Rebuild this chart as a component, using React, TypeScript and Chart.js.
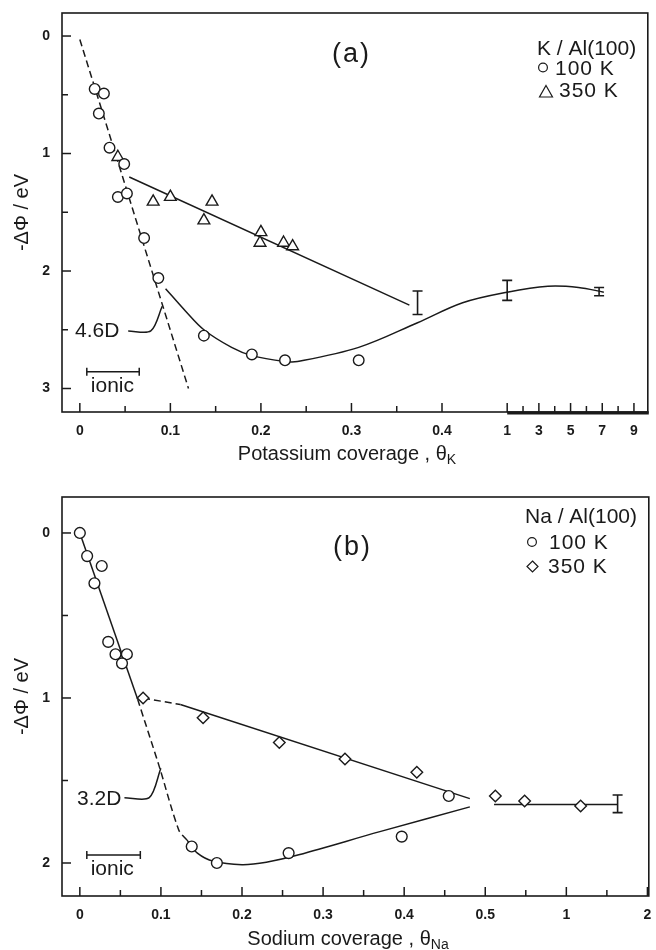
import React, { useEffect, useRef } from "react";
import { Chart, registerables } from "chart.js";
Chart.register(...registerables);

const FONT = "'Liberation Sans', Arial, Helvetica, sans-serif";
const INK = "#1a1a1a";

// ---------- Panel (a): K / Al(100) ----------
const kCircX = [0.0164, 0.0266, 0.021, 0.0328, 0.049, 0.042, 0.052, 0.071, 0.0867, 0.137, 0.19, 0.2266, 0.308];
const kCircY = [0.45, 0.49, 0.66, 0.95, 1.09, 1.37, 1.34, 1.72, 2.06, 2.55, 2.71, 2.76, 2.76];
const kTriX = [0.042, 0.081, 0.1, 0.146, 0.137, 0.2, 0.199, 0.225, 0.235];
const kTriY = [1.03, 1.41, 1.37, 1.41, 1.57, 1.67, 1.76, 1.76, 1.79];
const kIonicX = [0, 0.12];
const kIonicY = [0.03, 3.0];
const kHotLineX = [0.0546, 0.364];
const kHotLineY = [1.2, 2.29];
const kCurveX = [0.0947, 0.1166, 0.137, 0.1676, 0.19, 0.2266, 0.2404, 0.308, 0.373, 0.59, 1, 3.57, 5.5, 7.1];
const kCurveY = [2.15, 2.34, 2.5, 2.65, 2.72, 2.77, 2.77, 2.65, 2.44, 2.27, 2.18, 2.13, 2.14, 2.18];
const kLeaderX = [0.0534, 0.0784, 0.091];
const kLeaderY = [2.51, 2.51, 2.3];
const kErrX = [0.373, 1, 6.8];
const kErrLo = [2.17, 2.08, 2.14];
const kErrHi = [2.37, 2.25, 2.21];
const kXTicks = [0, 0.1, 0.2, 0.3, 0.4, 1, 3, 5, 7, 9];
const kXTickLabels = ["0", "0.1", "0.2", "0.3", "0.4", "1", "3", "5", "7", "9"];
const kXMinor = [0.05, 0.15, 0.25, 0.35, 2, 4, 6, 8];
const kYTicks = [0, 1, 2, 3];
const kYTickLabels = ["0", "1", "2", "3"];
const kYMinor = [0.5, 1.5, 2.5];

// ---------- Panel (b): Na / Al(100) ----------
const naCircX = [0, 0.009, 0.027, 0.018, 0.035, 0.044, 0.058, 0.052, 0.138, 0.169, 0.2575, 0.397, 0.455];
const naCircY = [0, 0.14, 0.2, 0.305, 0.66, 0.735, 0.735, 0.79, 1.9, 2.0, 1.94, 1.84, 1.594];
const naDiaX = [0.078, 0.152, 0.246, 0.327, 0.4156, 0.545, 0.7, 1.13];
const naDiaY = [1.0, 1.12, 1.27, 1.37, 1.45, 1.594, 1.624, 1.655];
const naLineX = [0, 0.0713];
const naLineY = [0, 1.008];
const naDashX = [0.0713, 0.098, 0.122, 0.132];
const naDashY = [1.008, 1.416, 1.8, 1.86];
const naCurveX = [0.132, 0.145, 0.165, 0.2, 0.23, 0.27, 0.37, 0.481];
const naCurveY = [1.86, 1.94, 1.99, 2.01, 1.995, 1.95, 1.81, 1.66];
const naHotDashX = [0.078, 0.124];
const naHotDashY = [1.0, 1.04];
const naHotLineX = [0.124, 0.481];
const naHotLineY = [1.04, 1.61];
const naFlatX = [0.539, 1.55];
const naFlatY = [1.645, 1.645];
const naLeaderX = [0.055, 0.0856, 0.0999];
const naLeaderY = [1.604, 1.604, 1.426];
const naErrX = [1.55];
const naErrLo = [1.588];
const naErrHi = [1.695];
const naXTicks = [0, 0.1, 0.2, 0.3, 0.4, 0.5, 1, 2];
const naXTickLabels = ["0", "0.1", "0.2", "0.3", "0.4", "0.5", "1", "2"];
const naXMinor = [0.05, 0.15, 0.25, 0.35, 0.45, 0.7071, 1.4142];
const naYTicks = [0, 1, 2];
const naYTickLabels = ["0", "1", "2"];
const naYMinor = [0.5, 1.5];

// axis breaks (display transforms)
const fA = (x: number) => (x <= 0.4 ? x : x < 1 ? 0.4 + (x - 0.4) * 0.12 : 0.472 + (x - 1) * 0.0175);
const fB = (x: number) => (x <= 0.5 ? x : 0.5 + 0.1 * Math.log2(x / 0.5));

type Pt = { x: number; y: number };
const zip = (xs: number[], ys: number[], f: (v: number) => number): Pt[] => xs.map((x, i) => ({ x: f(x), y: ys[i] }));

const marker = (label: string, data: Pt[], style: string, r: number) => ({
  label,
  data,
  showLine: false,
  pointStyle: style,
  pointRadius: r,
  pointHoverRadius: r,
  pointBorderWidth: 1.4,
  pointBorderColor: INK,
  pointBackgroundColor: "#ffffff",
});
const line = (label: string, data: Pt[], dash: number[] = [], tension = 0) => ({
  label,
  data,
  showLine: true,
  pointRadius: 0,
  borderColor: INK,
  borderWidth: 1.5,
  borderDash: dash,
  cubicInterpolationMode: "default",
  tension,
  fill: false,
});

type PanelDef = {
  id: string;
  height: number;
  padTop: number;
  xAxisH: number;
  fx: (v: number) => number;
  xMin: number; xMax: number; yMin: number; yMax: number;
  xTicks: number[]; xTickLabels: string[]; xMinor: number[];
  yTicks: number[]; yTickLabels: string[]; yMinor: number[];
  datasets: any[];
  errX: number[]; errLo: number[]; errHi: number[];
  thickFrom: number | null;
  ionic: { x0: number; x1: number; y: number; tx: number; ty: number };
  dip: { text: string; x: number; y: number };
  letter: { text: string; x: number; y: number };
  legendTitle: { text: string; x: number; y: number };
  legendItems: { shape: string; mx: number; my: number; text: string; tx: number; ty: number }[];
  xTitle: { main: string; sub: string; cx: number; y: number };
};

const panelA: PanelDef = {
  id: "a", height: 470, padTop: 13, xAxisH: 58, fx: fA,
  xMin: -0.0197, xMax: 0.6273, yMin: -0.196, yMax: 3.2,
  xTicks: kXTicks, xTickLabels: kXTickLabels, xMinor: kXMinor,
  yTicks: kYTicks, yTickLabels: kYTickLabels, yMinor: kYMinor,
  datasets: [
    marker("100 K", zip(kCircX, kCircY, fA), "circle", 5.3),
    marker("350 K", zip(kTriX, kTriY, fA), "triangle", 6.8),
    line("ionic 4.6D", zip(kIonicX, kIonicY, fA), [7, 4]),
    line("350 K fit", zip(kHotLineX, kHotLineY, fA)),
    line("100 K fit", zip(kCurveX, kCurveY, fA), [], 0.35),
    line("leader", zip(kLeaderX, kLeaderY, fA), [], 0.3),
  ],
  errX: kErrX, errLo: kErrLo, errHi: kErrHi,
  thickFrom: 1,
  ionic: { x0: 0.0077, x1: 0.0656, y: 2.857, tx: 0.036, ty: 3.03 },
  dip: { text: "4.6D", x: 0.0437, y: 2.56 },
  letter: { text: "(a)", x: 332, y: 62 },
  legendTitle: { text: "K / Al(100)", x: 537, y: 55 },
  legendItems: [
    { shape: "circle", mx: 543, my: 67.5, text: "100 K", tx: 555, ty: 75 },
    { shape: "triangle", mx: 546, my: 91.5, text: "350 K", tx: 559, ty: 97 },
  ],
  xTitle: { main: "Potassium coverage , θ", sub: "K", cx: 347, y: 460 },
};

const panelB: PanelDef = {
  id: "b", height: 480, padTop: 27, xAxisH: 54, fx: fB,
  xMin: -0.022, xMax: 0.7017, yMin: -0.218, yMax: 2.2,
  xTicks: naXTicks, xTickLabels: naXTickLabels, xMinor: naXMinor,
  yTicks: naYTicks, yTickLabels: naYTickLabels, yMinor: naYMinor,
  datasets: [
    marker("100 K", zip(naCircX, naCircY, fB), "circle", 5.4),
    marker("350 K", zip(naDiaX, naDiaY, fB), "rectRot", 5.8),
    line("100 K linear", zip(naLineX, naLineY, fB)),
    line("ionic 3.2D", zip(naDashX, naDashY, fB), [7, 4], 0.3),
    line("100 K fit", zip(naCurveX, naCurveY, fB), [], 0.35),
    line("350 K dashed", zip(naHotDashX, naHotDashY, fB), [7, 4]),
    line("350 K fit", zip(naHotLineX, naHotLineY, fB)),
    line("350 K high", zip(naFlatX, naFlatY, fB)),
    line("leader", zip(naLeaderX, naLeaderY, fB), [], 0.3),
  ],
  errX: naErrX, errLo: naErrLo, errHi: naErrHi,
  thickFrom: null,
  ionic: { x0: 0.0086, x1: 0.0746, y: 1.952, tx: 0.04, ty: 2.07 },
  dip: { text: "3.2D", x: 0.0513, y: 1.648 },
  letter: { text: "(b)", x: 333, y: 84.5 },
  legendTitle: { text: "Na / Al(100)", x: 525, y: 53.3 },
  legendItems: [
    { shape: "circle", mx: 532, my: 72, text: "100 K", tx: 549, ty: 79 },
    { shape: "diamond", mx: 532.5, my: 96.5, text: "350 K", tx: 548, ty: 103.3 },
  ],
  xTitle: { main: "Sodium coverage , θ", sub: "Na", cx: 348, y: 475 },
};

function decor(p: PanelDef) {
  return {
    id: "decor",
    afterDraw(chart: any) {
      const ctx: CanvasRenderingContext2D = chart.ctx;
      const a = chart.chartArea;
      const xs = chart.scales.x;
      const ys = chart.scales.y;
      const X = (v: number) => xs.getPixelForValue(p.fx(v));
      const Y = (v: number) => ys.getPixelForValue(v);
      ctx.save();
      ctx.strokeStyle = INK;
      ctx.fillStyle = INK;
      ctx.lineCap = "butt";
      // frame
      ctx.lineWidth = 1.6;
      ctx.strokeRect(a.left, a.top, a.right - a.left, a.bottom - a.top);
      // tick marks (inward)
      ctx.lineWidth = 1.5;
      const tx = (v: number, len: number) => {
        const px = X(v);
        ctx.beginPath(); ctx.moveTo(px, a.bottom); ctx.lineTo(px, a.bottom - len); ctx.stroke();
      };
      const ty = (v: number, len: number) => {
        const py = Y(v);
        ctx.beginPath(); ctx.moveTo(a.left, py); ctx.lineTo(a.left + len, py); ctx.stroke();
      };
      p.xTicks.forEach((v) => tx(v, 9));
      p.xMinor.forEach((v) => tx(v, 6));
      p.yTicks.forEach((v) => ty(v, 9));
      p.yMinor.forEach((v) => ty(v, 6));
      if (p.thickFrom !== null) {
        ctx.lineWidth = 3.2;
        ctx.beginPath(); ctx.moveTo(X(p.thickFrom), a.bottom + 0.8); ctx.lineTo(a.right + 1, a.bottom + 0.8); ctx.stroke();
      }
      // error bars
      ctx.lineWidth = 1.6;
      p.errX.forEach((ex, i) => {
        const px = X(ex), y1 = Y(p.errLo[i]), y2 = Y(p.errHi[i]);
        ctx.beginPath();
        ctx.moveTo(px, y1); ctx.lineTo(px, y2);
        ctx.moveTo(px - 5, y1); ctx.lineTo(px + 5, y1);
        ctx.moveTo(px - 5, y2); ctx.lineTo(px + 5, y2);
        ctx.stroke();
      });
      // ionic scale bar
      {
        const x0 = X(p.ionic.x0), x1 = X(p.ionic.x1), py = Y(p.ionic.y);
        ctx.lineWidth = 1.5;
        ctx.beginPath();
        ctx.moveTo(x0, py); ctx.lineTo(x1, py);
        ctx.moveTo(x0, py - 4); ctx.lineTo(x0, py + 4);
        ctx.moveTo(x1, py - 4); ctx.lineTo(x1, py + 4);
        ctx.stroke();
        ctx.font = `21px ${FONT}`;
        ctx.textAlign = "center";
        ctx.textBaseline = "alphabetic";
        ctx.fillText("ionic", X(p.ionic.tx), Y(p.ionic.ty));
      }
      // dipole label
      ctx.font = `21px ${FONT}`;
      ctx.textAlign = "right";
      ctx.fillText(p.dip.text, X(p.dip.x), Y(p.dip.y));
      // panel letter
      ctx.textAlign = "left";
      ctx.font = `27px ${FONT}`;
      (ctx as any).letterSpacing = "2px";
      ctx.fillText(p.letter.text, p.letter.x, p.letter.y);
      (ctx as any).letterSpacing = "0px";
      // legend
      ctx.font = `21px ${FONT}`;
      ctx.fillText(p.legendTitle.text, p.legendTitle.x, p.legendTitle.y);
      p.legendItems.forEach((it) => {
        ctx.lineWidth = 1.2;
        ctx.beginPath();
        if (it.shape === "circle") {
          ctx.arc(it.mx, it.my, 4.4, 0, Math.PI * 2);
        } else if (it.shape === "triangle") {
          ctx.moveTo(it.mx, it.my - 6);
          ctx.lineTo(it.mx + 6.5, it.my + 5.5);
          ctx.lineTo(it.mx - 6.5, it.my + 5.5);
          ctx.closePath();
        } else {
          ctx.moveTo(it.mx, it.my - 5.5);
          ctx.lineTo(it.mx + 5.5, it.my);
          ctx.lineTo(it.mx, it.my + 5.5);
          ctx.lineTo(it.mx - 5.5, it.my);
          ctx.closePath();
        }
        ctx.stroke();
        (ctx as any).letterSpacing = "1px";
        ctx.fillText(it.text, it.tx, it.ty);
        (ctx as any).letterSpacing = "0px";
      });
      // x axis title with subscript
      const mainFont = `20px ${FONT}`;
      const subFont = `14px ${FONT}`;
      ctx.font = mainFont;
      const wMain = ctx.measureText(p.xTitle.main).width;
      ctx.font = subFont;
      const wSub = ctx.measureText(p.xTitle.sub).width;
      const x0 = p.xTitle.cx - (wMain + wSub) / 2;
      ctx.font = mainFont;
      ctx.textAlign = "left";
      ctx.fillText(p.xTitle.main, x0, p.xTitle.y);
      ctx.font = subFont;
      ctx.fillText(p.xTitle.sub, x0 + wMain, p.xTitle.y + 4);
      ctx.restore();
    },
  };
}

function buildConfig(p: PanelDef): any {
  return {
    type: "scatter",
    data: { datasets: p.datasets },
    options: {
      animation: false,
      responsive: false,
      events: [],
      layout: { padding: { top: p.padTop, right: 2, left: 0, bottom: 0 } },
      plugins: { legend: { display: false }, tooltip: { enabled: false }, title: { display: false } },
      scales: {
        x: {
          type: "linear",
          min: p.xMin,
          max: p.xMax,
          afterBuildTicks: (s: any) => { s.ticks = p.xTicks.map((v) => ({ value: p.fx(v) })); },
          afterFit: (s: any) => { s.height = p.xAxisH; s.paddingLeft = 0; s.paddingRight = 0; },
          ticks: {
            autoSkip: false, maxRotation: 0, minRotation: 0, padding: 11, color: INK,
            font: { family: FONT, size: 14, weight: "bold" },
            callback: (_v: any, i: number) => p.xTickLabels[i],
          },
          grid: { display: false, drawTicks: false },
          border: { display: false },
        },
        y: {
          type: "linear",
          reverse: true,
          min: p.yMin,
          max: p.yMax,
          afterBuildTicks: (s: any) => { s.ticks = p.yTicks.map((v) => ({ value: v })); },
          afterFit: (s: any) => { s.width = 62; s.paddingTop = 0; s.paddingBottom = 0; },
          ticks: {
            autoSkip: false, padding: 12, color: INK,
            font: { family: FONT, size: 14, weight: "bold" },
            callback: (_v: any, i: number) => p.yTickLabels[i],
          },
          title: {
            display: true, text: "-ΔΦ / eV", color: INK,
            font: { family: FONT, size: 20 },
            padding: { top: 10, bottom: 0 },
          },
          grid: { display: false, drawTicks: false },
          border: { display: false },
        },
      },
    },
    plugins: [decor(p)],
  };
}

function Panel({ p, top }: { p: PanelDef; top: number }) {
  const ref = useRef<HTMLCanvasElement | null>(null);
  useEffect(() => {
    if (!ref.current) return;
    const chart = new Chart(ref.current, buildConfig(p));
    return () => chart.destroy();
  }, [p]);
  return (
    <canvas
      ref={ref}
      width={656}
      height={p.height}
      style={{ position: "absolute", left: 0, top, width: 656, height: p.height, display: "block" }}
    />
  );
}

export default function App() {
  return (
    <div style={{ position: "absolute", left: 0, top: 0, width: 656, height: 950, background: "#ffffff", overflow: "hidden" }}>
      <Panel p={panelA} top={0} />
      <Panel p={panelB} top={470} />
    </div>
  );
}
